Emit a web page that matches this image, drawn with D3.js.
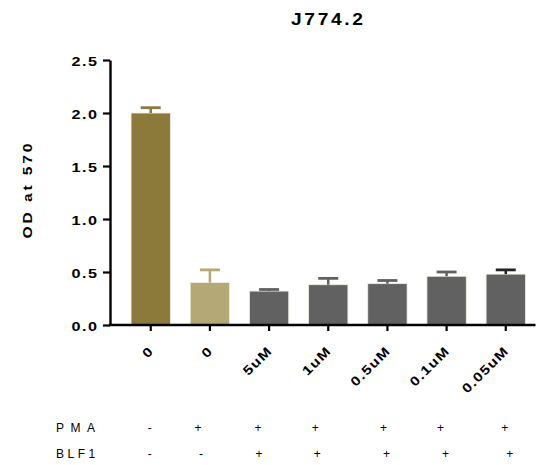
<!DOCTYPE html>
<html>
<head>
<meta charset="utf-8">
<script src="https://cdn.jsdelivr.net/npm/d3@7"></script>
<style>
  html, body { margin: 0; padding: 0; background: #fff; }
  svg { display: block; font-family: "Liberation Sans", Arial, sans-serif; }
</style>
</head>
<body>
<svg id="chart" width="537" height="465"></svg>
<script>
// Treatment groups (dose of BLF1) and measured optical density
const categories = ["0", "0", "5uM", "1uM", "0.5uM", "0.1uM", "0.05uM"];
const means = [2.00, 0.40, 0.32, 0.38, 0.39, 0.46, 0.48];
const errors = [0.05, 0.12, 0.015, 0.06, 0.03, 0.04, 0.04];
const barColors = ["#8b7a3a", "#b3a876", "#616161", "#616161", "#616161", "#616161", "#616161"];
const errColors = ["#8b7a3a", "#b3a876", "#616161", "#616161", "#616161", "#616161", "#222222"];
const yTicks = [0.0, 0.5, 1.0, 1.5, 2.0, 2.5];
const pmaRow = ["-", "+", "+", "+", "+", "+", "+"];
const blf1Row = ["-", "-", "+", "+", "+", "+", "+"];

const svg = d3.select("#chart");
const SX = 1.2; // horizontal stretch for the wide bold lettering

// Text helper: positioned, optionally rotated, horizontally stretched text
function label(parent, str, o) {
  const ls = o.ls || 0;
  const comp = o.anchor === "end" ? ls : (o.anchor === "middle" ? ls / 2 : 0);
  return parent.append("text")
    .attr("transform", `translate(${o.x},${o.y}) rotate(${o.rot || 0}) scale(${o.sx || SX},1)`)
    .attr("text-anchor", o.anchor || "start")
    .attr("dx", comp)
    .style("font-size", o.size + "px")
    .style("font-weight", o.bold ? "bold" : "normal")
    .style("letter-spacing", ls + "px")
    .attr("fill", "#000")
    .text(str);
}

const x = d3.scaleBand()
  .domain(d3.range(categories.length))
  .range([121, 535.5])
  .paddingInner(0.335)
  .paddingOuter(0.17);

const y = d3.scaleLinear().domain([0, 2.5]).range([325, 60]);

// Title
label(svg, "J774.2", { x: 327, y: 25, anchor: "middle", size: 16, bold: true, ls: 2.2 });

// Y axis title
label(svg, "OD at 570", { x: 31.5, y: 191, rot: -90, anchor: "middle", size: 13, bold: true, ls: 2.4 });

// Bars
svg.append("g").selectAll("rect")
  .data(means)
  .join("rect")
  .attr("x", (d, i) => x(i))
  .attr("y", d => y(d))
  .attr("width", x.bandwidth())
  .attr("height", d => y(0) - y(d))
  .attr("fill", (d, i) => barColors[i])
  .attr("stroke", "#f2efe2")
  .attr("stroke-width", 0.8);

// Upward error bars (mean + error)
const eb = svg.append("g");
means.forEach((m, i) => {
  const cx = x(i) + x.bandwidth() / 2;
  eb.append("line")
    .attr("x1", cx).attr("x2", cx)
    .attr("y1", y(m)).attr("y2", y(m + errors[i]))
    .attr("stroke", errColors[i]).attr("stroke-width", 2.5);
  eb.append("line")
    .attr("x1", cx - 10).attr("x2", cx + 10)
    .attr("y1", y(m + errors[i])).attr("y2", y(m + errors[i]))
    .attr("stroke", errColors[i]).attr("stroke-width", 2.8);
});

// Y axis (line and ticks from d3, labels drawn with the stretch helper)
const yAxis = svg.append("g")
  .attr("transform", "translate(110,0)")
  .call(d3.axisLeft(y).tickValues(yTicks).tickFormat("").tickSize(7).tickSizeOuter(0));
yAxis.select(".domain").attr("stroke", "#000").attr("stroke-width", 2.4);
yAxis.selectAll(".tick line").attr("stroke", "#000").attr("stroke-width", 2.2);
const fmt = d3.format(".1f");
yTicks.forEach(t => {
  label(svg, fmt(t), { x: 97, y: y(t) + 6.3, anchor: "end", size: 13.5, bold: true, ls: 1.2 });
});

// X axis
const xAxis = svg.append("g")
  .attr("transform", "translate(0,325)")
  .call(d3.axisBottom(x).tickFormat("").tickSize(6).tickSizeOuter(0));
xAxis.select(".domain").attr("d", "M109,0H535.5").attr("stroke", "#000").attr("stroke-width", 2.4);
xAxis.selectAll(".tick line").attr("stroke", "#000").attr("stroke-width", 2.2);
categories.forEach((c, i) => {
  const cx = x(i) + x.bandwidth() / 2;
  label(svg, c, { x: cx + 3, y: 352.5, rot: -45, anchor: "end", size: 13, bold: true, ls: 1.0 });
});

// Treatment table below the axis
const tableRows = [
  { label: "PMA", marks: pmaRow, y: 432, ls: 6.5, offs: [-1, -12, -11, -13, -4, -6, -1] },
  { label: "BLF1", marks: blf1Row, y: 458, ls: 3.5, offs: [-1, -9, -10, -11, -1, -1, 4] }
];
tableRows.forEach(row => {
  label(svg, row.label, { x: 56, y: row.y, size: 12, ls: row.ls, sx: 1 });
  row.marks.forEach((m, i) => {
    label(svg, m, { x: x(i) + x.bandwidth() / 2 + row.offs[i], y: row.y, anchor: "middle", size: 12, sx: 1 });
  });
});
</script>
</body>
</html>
